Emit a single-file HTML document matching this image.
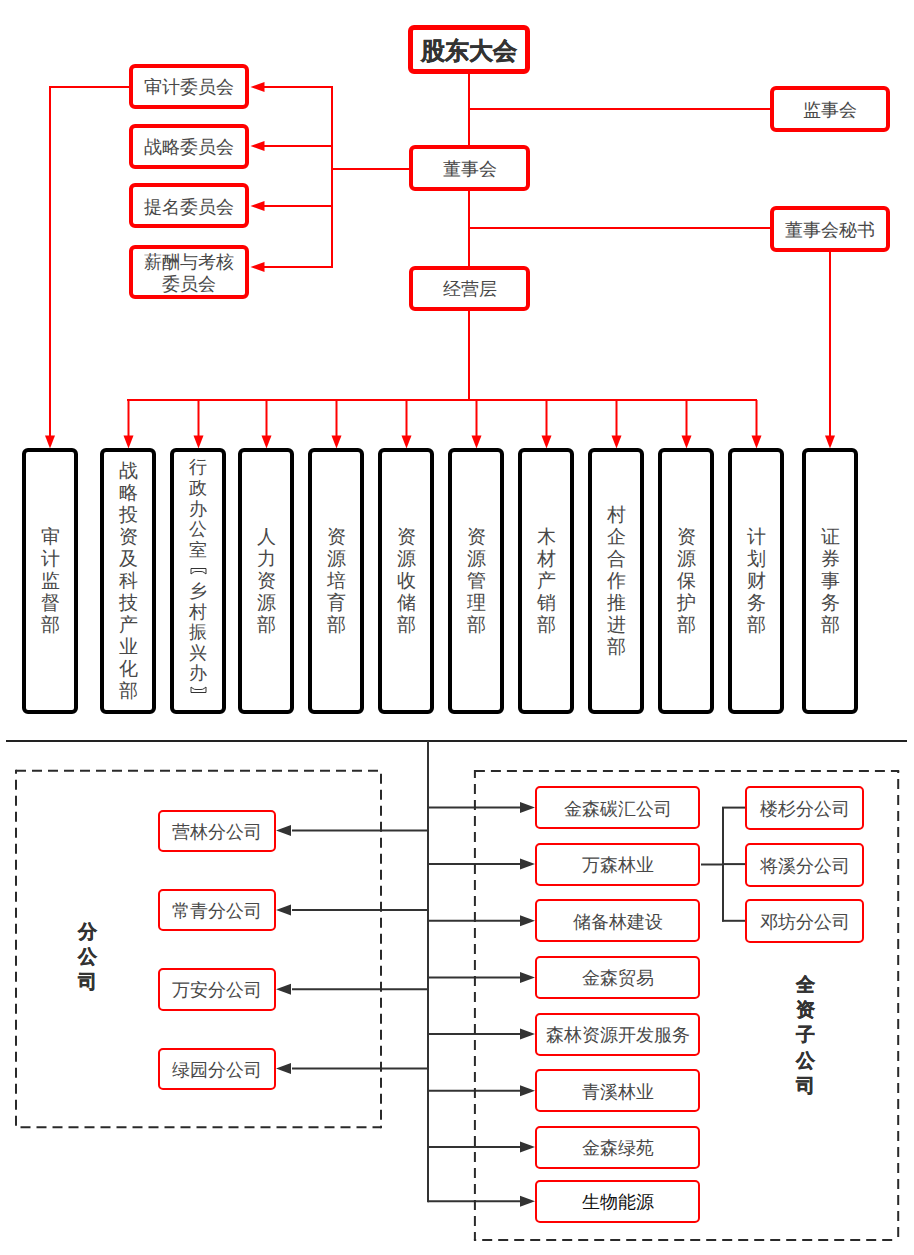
<!DOCTYPE html>
<html><head><meta charset="utf-8"><style>
html,body{margin:0;padding:0;background:#fff;}
body{width:914px;height:1255px;position:relative;overflow:hidden;font-family:"Liberation Sans",sans-serif;color:#484848;}
.lines{position:absolute;left:0;top:0;}
.rb,.kb,.sb{position:absolute;box-sizing:border-box;background:#fff;display:flex;align-items:center;justify-content:center;text-align:center;}
.rb{border:4px solid #ff0000;border-radius:6px;font-size:18px;line-height:22px;}
.rb.big span{top:2px;}
.rb.big{border-width:5px;font-size:24px;color:#333;font-weight:bold;-webkit-text-stroke:0.4px #333;}
.rb.two{line-height:22px;}
.kb{border:4.5px solid #000;border-radius:6px;font-size:19px;line-height:22px;}
.kb.tight{line-height:20.6px;font-size:18px;}
.sb{border:2px solid #ff0000;border-radius:5px;font-size:18px;}
.sb.dark{color:#111;}
.rb span,.sb span{position:relative;top:1px;}
.lbl{position:absolute;font-size:19px;font-weight:bold;line-height:25.2px;color:#333;-webkit-text-stroke:0.35px #333;}
</style></head><body>
<svg class="lines" width="914" height="1255" viewBox="0 0 914 1255"><line x1="469" y1="73" x2="469" y2="401" stroke="#ff0000" stroke-width="2"/><line x1="469" y1="109" x2="770" y2="109" stroke="#ff0000" stroke-width="2"/><line x1="469" y1="228" x2="770" y2="228" stroke="#ff0000" stroke-width="2"/><line x1="332" y1="86" x2="332" y2="268" stroke="#ff0000" stroke-width="2"/><line x1="332" y1="169" x2="409" y2="169" stroke="#ff0000" stroke-width="2"/><line x1="260" y1="87" x2="333" y2="87" stroke="#ff0000" stroke-width="2"/><polygon points="250.5,87 264.5,82 264.5,92" fill="#ff0000"/><line x1="260" y1="146" x2="333" y2="146" stroke="#ff0000" stroke-width="2"/><polygon points="250.5,146 264.5,141 264.5,151" fill="#ff0000"/><line x1="260" y1="206" x2="333" y2="206" stroke="#ff0000" stroke-width="2"/><polygon points="250.5,206 264.5,201 264.5,211" fill="#ff0000"/><line x1="260" y1="267" x2="333" y2="267" stroke="#ff0000" stroke-width="2"/><polygon points="250.5,267 264.5,262 264.5,272" fill="#ff0000"/><line x1="129" y1="87" x2="50" y2="87" stroke="#ff0000" stroke-width="2"/><line x1="50" y1="86" x2="50" y2="440" stroke="#ff0000" stroke-width="2"/><polygon points="50,448.5 45,435.5 55,435.5" fill="#ff0000"/><line x1="830" y1="252" x2="830" y2="440" stroke="#ff0000" stroke-width="2"/><polygon points="830,448.5 825,435.5 835,435.5" fill="#ff0000"/><line x1="127" y1="400" x2="757" y2="400" stroke="#ff0000" stroke-width="2"/><line x1="128.5" y1="400" x2="128.5" y2="440" stroke="#ff0000" stroke-width="2"/><polygon points="128.5,448.5 123.5,435.5 133.5,435.5" fill="#ff0000"/><line x1="198.5" y1="400" x2="198.5" y2="440" stroke="#ff0000" stroke-width="2"/><polygon points="198.5,448.5 193.5,435.5 203.5,435.5" fill="#ff0000"/><line x1="266.5" y1="400" x2="266.5" y2="440" stroke="#ff0000" stroke-width="2"/><polygon points="266.5,448.5 261.5,435.5 271.5,435.5" fill="#ff0000"/><line x1="336.5" y1="400" x2="336.5" y2="440" stroke="#ff0000" stroke-width="2"/><polygon points="336.5,448.5 331.5,435.5 341.5,435.5" fill="#ff0000"/><line x1="406.5" y1="400" x2="406.5" y2="440" stroke="#ff0000" stroke-width="2"/><polygon points="406.5,448.5 401.5,435.5 411.5,435.5" fill="#ff0000"/><line x1="476.5" y1="400" x2="476.5" y2="440" stroke="#ff0000" stroke-width="2"/><polygon points="476.5,448.5 471.5,435.5 481.5,435.5" fill="#ff0000"/><line x1="546.5" y1="400" x2="546.5" y2="440" stroke="#ff0000" stroke-width="2"/><polygon points="546.5,448.5 541.5,435.5 551.5,435.5" fill="#ff0000"/><line x1="616.5" y1="400" x2="616.5" y2="440" stroke="#ff0000" stroke-width="2"/><polygon points="616.5,448.5 611.5,435.5 621.5,435.5" fill="#ff0000"/><line x1="686.5" y1="400" x2="686.5" y2="440" stroke="#ff0000" stroke-width="2"/><polygon points="686.5,448.5 681.5,435.5 691.5,435.5" fill="#ff0000"/><line x1="756.5" y1="400" x2="756.5" y2="440" stroke="#ff0000" stroke-width="2"/><polygon points="756.5,448.5 751.5,435.5 761.5,435.5" fill="#ff0000"/><line x1="6" y1="741" x2="907" y2="741" stroke="#222" stroke-width="2"/><line x1="428" y1="741" x2="428" y2="1202.2" stroke="#333" stroke-width="2"/><line x1="292" y1="830.6" x2="428" y2="830.6" stroke="#333" stroke-width="2"/><polygon points="276,830.6 291,825.1 291,836.1" fill="#333"/><line x1="292" y1="910" x2="428" y2="910" stroke="#333" stroke-width="2"/><polygon points="276,910 291,904.5 291,915.5" fill="#333"/><line x1="292" y1="989.2" x2="428" y2="989.2" stroke="#333" stroke-width="2"/><polygon points="276,989.2 291,983.7 291,994.7" fill="#333"/><line x1="292" y1="1068.4" x2="428" y2="1068.4" stroke="#333" stroke-width="2"/><polygon points="276,1068.4 291,1062.9 291,1073.9" fill="#333"/><line x1="428" y1="807.6" x2="522" y2="807.6" stroke="#333" stroke-width="2"/><polygon points="535,807.6 520,802.1 520,813.1" fill="#333"/><line x1="428" y1="864.1" x2="522" y2="864.1" stroke="#333" stroke-width="2"/><polygon points="535,864.1 520,858.6 520,869.6" fill="#333"/><line x1="428" y1="920.8000000000001" x2="522" y2="920.8000000000001" stroke="#333" stroke-width="2"/><polygon points="535,920.8000000000001 520,915.3000000000001 520,926.3000000000001" fill="#333"/><line x1="428" y1="977.5" x2="522" y2="977.5" stroke="#333" stroke-width="2"/><polygon points="535,977.5 520,972.0 520,983.0" fill="#333"/><line x1="428" y1="1034.1" x2="522" y2="1034.1" stroke="#333" stroke-width="2"/><polygon points="535,1034.1 520,1028.6 520,1039.6" fill="#333"/><line x1="428" y1="1090.6999999999998" x2="522" y2="1090.6999999999998" stroke="#333" stroke-width="2"/><polygon points="535,1090.6999999999998 520,1085.1999999999998 520,1096.1999999999998" fill="#333"/><line x1="428" y1="1147.1" x2="522" y2="1147.1" stroke="#333" stroke-width="2"/><polygon points="535,1147.1 520,1141.6 520,1152.6" fill="#333"/><line x1="428" y1="1201.1999999999998" x2="522" y2="1201.1999999999998" stroke="#333" stroke-width="2"/><polygon points="535,1201.1999999999998 520,1195.6999999999998 520,1206.6999999999998" fill="#333"/><line x1="701" y1="864.5" x2="723" y2="864.5" stroke="#333" stroke-width="2"/><line x1="723" y1="807.5" x2="723" y2="921.5" stroke="#333" stroke-width="2"/><line x1="722" y1="807.6" x2="745" y2="807.6" stroke="#333" stroke-width="2"/><line x1="722" y1="864.1" x2="745" y2="864.1" stroke="#333" stroke-width="2"/><line x1="722" y1="920.8000000000001" x2="745" y2="920.8000000000001" stroke="#333" stroke-width="2"/><line x1="16" y1="770.8" x2="382" y2="770.8" stroke="#2a2a2a" stroke-width="2" stroke-dasharray="10 6" stroke-dashoffset="0"/><line x1="381" y1="770.8" x2="381" y2="1128.2" stroke="#2a2a2a" stroke-width="2" stroke-dasharray="10 6" stroke-dashoffset="13"/><line x1="381" y1="1127.2" x2="15" y2="1127.2" stroke="#2a2a2a" stroke-width="2" stroke-dasharray="10 6" stroke-dashoffset="1.5"/><line x1="16" y1="1127.2" x2="16" y2="769.8" stroke="#2a2a2a" stroke-width="2" stroke-dasharray="10 6" stroke-dashoffset="14.5"/><line x1="474.9" y1="771.1" x2="899.2" y2="771.1" stroke="#2a2a2a" stroke-width="2" stroke-dasharray="10 6" stroke-dashoffset="0"/><line x1="898.2" y1="771.1" x2="898.2" y2="1240.9" stroke="#2a2a2a" stroke-width="2" stroke-dasharray="10 6" stroke-dashoffset="8"/><line x1="898.2" y1="1239.9" x2="473.9" y2="1239.9" stroke="#2a2a2a" stroke-width="2" stroke-dasharray="10 6" stroke-dashoffset="10"/><line x1="474.9" y1="1239.9" x2="474.9" y2="770.1" stroke="#2a2a2a" stroke-width="2" stroke-dasharray="10 6" stroke-dashoffset="2"/></svg>
<div class="rb big" style="left:408px;top:25px;width:122px;height:48.5px;"><span>股东大会</span></div><div class="rb" style="left:770px;top:86px;width:120px;height:46px;"><span>监事会</span></div><div class="rb" style="left:409px;top:145px;width:121px;height:46px;"><span>董事会</span></div><div class="rb" style="left:770px;top:206px;width:120px;height:46px;"><span>董事会秘书</span></div><div class="rb" style="left:409px;top:265.5px;width:121px;height:45.5px;"><span>经营层</span></div><div class="rb" style="left:128.5px;top:63.5px;width:120px;height:45px;"><span>审计委员会</span></div><div class="rb" style="left:128.5px;top:123.5px;width:120px;height:45px;"><span>战略委员会</span></div><div class="rb" style="left:128.5px;top:183px;width:120px;height:45px;"><span>提名委员会</span></div><div class="rb two" style="left:128.5px;top:244.5px;width:120px;height:54.5px;"><span>薪酬与考核<br>委员会</span></div><div class="kb" style="left:22px;top:448px;width:56px;height:266px;"><span>审<br>计<br>监<br>督<br>部</span></div><div class="kb" style="left:100px;top:448px;width:56px;height:266px;"><span>战<br>略<br>投<br>资<br>及<br>科<br>技<br>产<br>业<br>化<br>部</span></div><div class="kb tight" style="left:170px;top:448px;width:56px;height:266px;"><span>行<br>政<br>办<br>公<br>室<br><svg width="17" height="20" viewBox="0 0 17 20" style="vertical-align:top"><path d="M1,8.5 H16 V14 L14,12.5 Q13,11.5 11,11.5 H6 Q4,11.5 3,12.5 L1,14 Z" fill="none" stroke="#333" stroke-width="1"/></svg><br>乡<br>村<br>振<br>兴<br>办<br><svg width="17" height="20" viewBox="0 0 17 20" style="vertical-align:top"><path d="M1,8.5 H16 V3 L14,4.5 Q13,5.5 11,5.5 H6 Q4,5.5 3,4.5 L1,3 Z" fill="none" stroke="#333" stroke-width="1"/></svg></span></div><div class="kb" style="left:238px;top:448px;width:56px;height:266px;"><span>人<br>力<br>资<br>源<br>部</span></div><div class="kb" style="left:308px;top:448px;width:56px;height:266px;"><span>资<br>源<br>培<br>育<br>部</span></div><div class="kb" style="left:378px;top:448px;width:56px;height:266px;"><span>资<br>源<br>收<br>储<br>部</span></div><div class="kb" style="left:448px;top:448px;width:56px;height:266px;"><span>资<br>源<br>管<br>理<br>部</span></div><div class="kb" style="left:518px;top:448px;width:56px;height:266px;"><span>木<br>材<br>产<br>销<br>部</span></div><div class="kb" style="left:588px;top:448px;width:56px;height:266px;"><span>村<br>企<br>合<br>作<br>推<br>进<br>部</span></div><div class="kb" style="left:658px;top:448px;width:56px;height:266px;"><span>资<br>源<br>保<br>护<br>部</span></div><div class="kb" style="left:728px;top:448px;width:56px;height:266px;"><span>计<br>划<br>财<br>务<br>部</span></div><div class="kb" style="left:802px;top:448px;width:56px;height:266px;"><span>证<br>券<br>事<br>务<br>部</span></div><div class="sb" style="left:157.5px;top:809.5px;width:118px;height:42.5px;"><span>营林分公司</span></div><div class="sb" style="left:157.5px;top:888.5px;width:118px;height:42.5px;"><span>常青分公司</span></div><div class="sb" style="left:157.5px;top:968px;width:118px;height:42.5px;"><span>万安分公司</span></div><div class="sb" style="left:157.5px;top:1047.5px;width:118px;height:42.5px;"><span>绿园分公司</span></div><div class="sb" style="left:534.8px;top:786px;width:165.5px;height:43.2px;"><span>金森碳汇公司</span></div><div class="sb" style="left:534.8px;top:842.5px;width:165.5px;height:43.2px;"><span>万森林业</span></div><div class="sb" style="left:534.8px;top:899.2px;width:165.5px;height:43.2px;"><span>储备林建设</span></div><div class="sb" style="left:534.8px;top:955.9px;width:165.5px;height:43.2px;"><span>金森贸易</span></div><div class="sb" style="left:534.8px;top:1012.5px;width:165.5px;height:43.2px;"><span>森林资源开发服务</span></div><div class="sb" style="left:534.8px;top:1069.1px;width:165.5px;height:43.2px;"><span>青溪林业</span></div><div class="sb" style="left:534.8px;top:1125.5px;width:165.5px;height:43.2px;"><span>金森绿苑</span></div><div class="sb dark" style="left:534.8px;top:1179.6px;width:165.5px;height:43.2px;"><span>生物能源</span></div><div class="sb" style="left:745.3px;top:786px;width:119px;height:44px;"><span>楼杉分公司</span></div><div class="sb" style="left:745.3px;top:842.5px;width:119px;height:44px;"><span>将溪分公司</span></div><div class="sb" style="left:745.3px;top:899.2px;width:119px;height:44px;"><span>邓坊分公司</span></div>
<div class="lbl" style="left:78px;top:919px;">分<br>公<br>司</div><div class="lbl" style="left:795.5px;top:972px;">全<br>资<br>子<br>公<br>司</div>
</body></html>
